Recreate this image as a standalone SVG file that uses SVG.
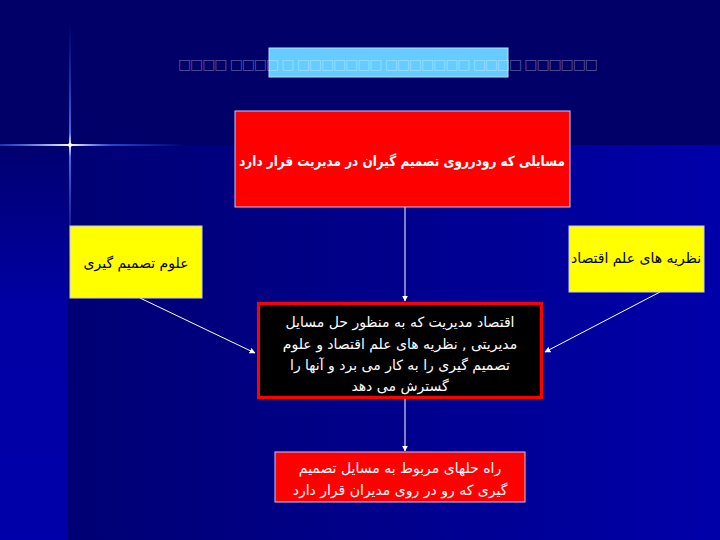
<svg xmlns="http://www.w3.org/2000/svg" width="720" height="540" viewBox="0 0 720 540">
<defs>
<style>
.fa{font-family:"DejaVu Sans","Noto Sans",sans-serif;font-size:14px;text-anchor:middle;direction:rtl}
.w{fill:#ffffff}
.k{fill:#000000}
.box{stroke:#c8c8ff;stroke-width:1}
.con{stroke:#ffffff;stroke-width:1;fill:none;marker-end:url(#arr)}
</style>
<marker id="arr" viewBox="0 0 10 10" refX="9" refY="5" markerWidth="6" markerHeight="6" orient="auto" markerUnits="userSpaceOnUse">
<path d="M0,0 L10,5 L0,10 z" fill="#ffffff"/>
</marker>
<linearGradient id="main" x1="0" y1="0" x2="1" y2="0">
<stop offset="0" stop-color="#000074"/>
<stop offset="0.5" stop-color="#00008c"/>
<stop offset="1" stop-color="#0000aa"/>
</linearGradient>
<linearGradient id="leftg" x1="0" y1="0" x2="0" y2="1">
<stop offset="0" stop-color="#000070"/>
<stop offset="0.4" stop-color="#0000a4"/>
<stop offset="1" stop-color="#0000aa"/>
</linearGradient>
<linearGradient id="sv" x1="0" y1="0" x2="0" y2="1">
<stop offset="0" stop-color="#3366ff" stop-opacity="0"/>
<stop offset="0.45" stop-color="#5588ff" stop-opacity="0.8"/>
<stop offset="0.5" stop-color="#ffffff"/>
<stop offset="0.55" stop-color="#5588ff" stop-opacity="0.8"/>
<stop offset="1" stop-color="#3366ff" stop-opacity="0"/>
</linearGradient>
<linearGradient id="sh" x1="0" y1="0" x2="1" y2="0">
<stop offset="0" stop-color="#3366ff" stop-opacity="0.5"/>
<stop offset="0.38" stop-color="#ffffff"/>
<stop offset="0.6" stop-color="#3366ff" stop-opacity="0.7"/>
<stop offset="1" stop-color="#3366ff" stop-opacity="0"/>
</linearGradient>
</defs>
<rect x="0" y="0" width="720" height="540" fill="#000068"/>
<rect x="68" y="145" width="652" height="395" fill="url(#main)"/>
<rect x="0" y="145" width="68" height="395" fill="url(#leftg)"/>
<g id="sparkle">
<rect x="69" y="25" width="2" height="240" fill="url(#sv)"/>
<rect x="0" y="144" width="185" height="2" fill="url(#sh)"/>
<circle cx="70" cy="145" r="2" fill="#ffffff"/>
</g>
<g id="title">
<rect x="269" y="48" width="239" height="29" fill="#66ccff" stroke="#b0e4ff" stroke-width="1"/>
<text x="388" y="69" font-family="DejaVu Sans,sans-serif" font-size="14" text-anchor="middle" fill="#ffffff" fill-opacity="0.35" textLength="420" lengthAdjust="spacing">□□□□ □□□□ □ □□□□□□□ □□□□□□□ □□□□ □□□□□□</text>
</g>
<g id="connectors">
<line class="con" x1="405" y1="207" x2="405" y2="301"/>
<line class="con" x1="140" y1="298" x2="255" y2="353"/>
<line class="con" x1="660" y1="292" x2="545" y2="352"/>
<line class="con" x1="405" y1="398" x2="405" y2="451"/>
</g>
<g id="node-top">
<rect class="box" x="235" y="111" width="335" height="96" fill="#ff0000"/>
<text class="fa w" transform="translate(402,166) scale(0.86,1)" x="0" y="0" font-size="15" font-weight="bold">مسایلی که رودرروی تصمیم گیران در مدیریت قرار دارد</text>
</g>
<g id="node-left">
<rect class="box" x="70" y="226" width="132" height="72" fill="#ffff00"/>
<text class="fa k" x="136" y="268">علوم تصمیم گیری</text>
</g>
<g id="node-right">
<rect class="box" x="569" y="226" width="135" height="66" fill="#ffff00"/>
<text class="fa k" x="636" y="263">نظریه های علم اقتصاد</text>
</g>
<g id="node-center">
<rect x="258.5" y="303.5" width="283" height="94" fill="#000000" stroke="#ff0000" stroke-width="3"/>
<text class="fa w" x="400" y="327">اقتصاد مدیریت که به منظور حل مسایل</text>
<text class="fa w" x="400" y="349">مدیریتی , نظریه های علم اقتصاد و علوم</text>
<text class="fa w" x="400" y="370">تصمیم گیری را به کار می برد و آنها را</text>
<text class="fa w" x="400" y="391">گسترش می دهد</text>
</g>
<g id="node-bottom">
<rect class="box" x="275" y="452" width="250" height="50" fill="#ff0000"/>
<text class="fa w" x="400" y="473">راه حلهای مربوط به مسایل تصمیم</text>
<text class="fa w" x="400" y="495">گیری که رو در روی مدیران قرار دارد</text>
</g>
</svg>
